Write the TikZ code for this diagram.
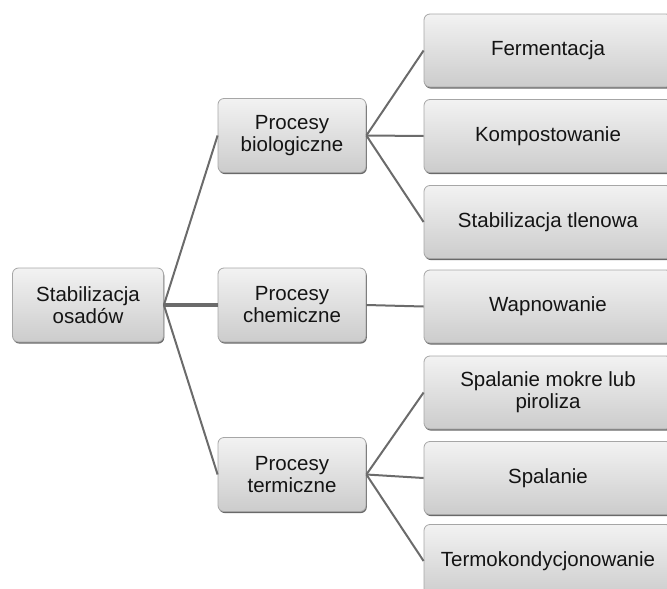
\documentclass[tikz,border=0pt]{standalone}
\usepackage{fontspec}
\setmainfont{Liberation Sans}
\usetikzlibrary{shadows}
\begin{document}
\begin{tikzpicture}[x=1pt,y=-1pt,
  box/.style={draw=black!35, line width=0.8pt, rounded corners=6pt, top color=black!5, bottom color=black!20,
    drop shadow={shadow xshift=0.8pt,shadow yshift=-1.6pt,fill=black!65,opacity=0.9},
    align=center, font=\fontsize{20.5}{22}\selectfont, inner sep=0pt, text=black!92},
  rootbox/.style={box, minimum width=151pt, minimum height=74pt},
  midbox/.style={box, minimum width=148pt, minimum height=74pt},
  leafbox/.style={box, minimum width=248pt, minimum height=73pt},
  link/.style={draw=black!58, line width=2pt},
  thick link/.style={draw=black!58, line width=4pt},
]
\useasboundingbox (0,0) rectangle (667,589);
\clip (0,0) rectangle (667,589);

\node[rootbox] (root) at (88,305) {Stabilizacja\\osadów};

\node[midbox] (bio)  at (292,135.5) {Procesy\\biologiczne};
\node[midbox] (chem) at (292,305)   {Procesy\\chemiczne};
\node[midbox] (term) at (292,474.5) {Procesy\\termiczne};

\node[leafbox] (ferm)  at (548,50.5)  {Fermentacja};
\node[leafbox] (komp)  at (548,136)   {Kompostowanie};
\node[leafbox] (stab)  at (548,222)   {Stabilizacja tlenowa};
\node[leafbox] (wap)   at (548,306.5) {Wapnowanie};
\node[leafbox] (spm)   at (548,392.5) {Spalanie mokre lub\\piroliza};
\node[leafbox] (spa)   at (548,478)   {Spalanie};
\node[leafbox] (termo) at (548,561)   {Termokondycjonowanie};

\draw[link] (root.east) -- (bio.west);
\draw[thick link] (root.east) -- (chem.west);
\draw[link] (root.east) -- (term.west);

\draw[link] (bio.east) -- (ferm.west);
\draw[link] (bio.east) -- (komp.west);
\draw[link] (bio.east) -- (stab.west);

\draw[link] (chem.east) -- (wap.west);

\draw[link] (term.east) -- (spm.west);
\draw[link] (term.east) -- (spa.west);
\draw[link] (term.east) -- (termo.west);
\end{tikzpicture}
\end{document}
